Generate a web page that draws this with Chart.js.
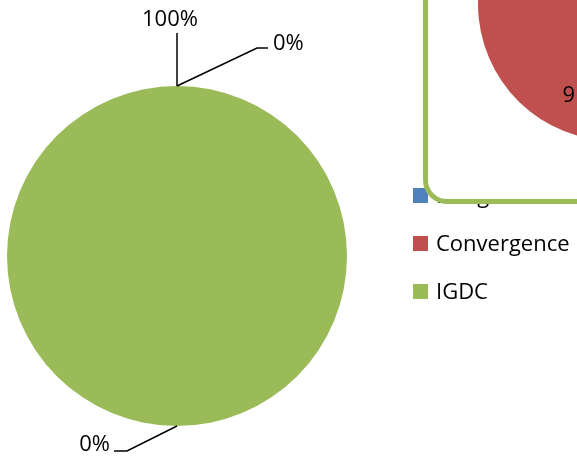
<!DOCTYPE html>
<html>
<head>
<meta charset="utf-8">
<script src="https://cdn.jsdelivr.net/npm/chart.js@4/dist/chart.umd.min.js"></script>
<style>
html, body { margin: 0; padding: 0; background: #fff; overflow: hidden; }
#wrap { position: relative; width: 577px; height: 459px; overflow: hidden; }
#main { position: absolute; left: 0; top: 0; }
#inset { position: absolute; left: 423px; top: -60px; width: 320px; height: 264px; box-sizing: border-box;
         border: 5px solid #9BBB59; border-radius: 24px; background: #fff; overflow: hidden; }
#second { position: absolute; left: 37px; top: -91px; }
</style>
</head>
<body>
<div id="wrap">
  <canvas id="main" width="577" height="459"></canvas>
  <div id="inset"><canvas id="second" width="300" height="300"></canvas></div>
</div>
<script>
// data
const categories = ['Budget', 'Convergence', 'IGDC'];
const shareValues = [0, 0, 100];
const sliceColors = ['#4F81BD', '#C0504D', '#9BBB59'];

const insetCategories = ['Other', 'Convergence'];
const insetValues = [9, 91];
const insetColors = ['#4F81BD', '#C0504D'];

const FONT = '22px "Open Sans", sans-serif';

// leader lines + labels (offsets from the anchor on the rim)
const labelLayout = [
    { angle: -90, path: [[80, -38], [91, -38]], text: [96, -36], align: 'left' },
    { angle: 90, path: [[-50, 25], [-63, 25]], text: [-67, 25], align: 'right' },
    { angle: -90, path: [[0, -53]], text: [-7, -60], align: 'center' }
];

function pct(data, i) {
    let total = data.reduce((a, b) => a + b, 0);
    return Math.round(data[i] / total * 100) + '%';
}

const pieLabels = {
    id: 'pieLabels',
    afterDatasetsDraw(chart) {
        let ctx = chart.ctx;
        let meta = chart.getDatasetMeta(0);
        let data = chart.data.datasets[0].data;
        meta.data.forEach((arc, i) => {
            let lay = labelLayout[i];
            let p = arc.getProps(['x', 'y', 'outerRadius'], true);
            let a = lay.angle * Math.PI / 180;
            let ax = p.x + p.outerRadius * Math.cos(a);
            let ay = p.y + p.outerRadius * Math.sin(a);
            ctx.save();
            ctx.strokeStyle = '#000';
            ctx.lineWidth = 1.5;
            ctx.beginPath();
            ctx.moveTo(ax, ay);
            lay.path.forEach(q => ctx.lineTo(ax + q[0], ay + q[1]));
            ctx.stroke();
            ctx.font = FONT;
            ctx.fillStyle = '#000';
            ctx.textAlign = lay.align;
            ctx.textBaseline = 'alphabetic';
            ctx.fillText(pct(data, i), ax + lay.text[0], ay + lay.text[1]);
            ctx.restore();
        });
    }
};

const sideLegend = {
    id: 'sideLegend',
    afterDraw(chart) {
        let ctx = chart.ctx;
        let ds = chart.data.datasets[0];
        chart.data.labels.forEach((lab, i) => {
            let top = 188 + i * 48;
            ctx.save();
            ctx.fillStyle = ds.backgroundColor[i];
            ctx.fillRect(413, top, 15, 15);
            ctx.font = FONT;
            ctx.fillStyle = '#000';
            ctx.textAlign = 'left';
            ctx.textBaseline = 'alphabetic';
            ctx.fillText(lab, 436, top + 15);
            ctx.restore();
        });
    }
};

const insetLabels = {
    id: 'insetLabels',
    afterDatasetsDraw(chart) {
        let ctx = chart.ctx;
        let data = chart.data.datasets[0].data;
        chart.getDatasetMeta(0).data.forEach((arc, i) => {
            let p = arc.getProps(['x', 'y', 'startAngle', 'endAngle', 'outerRadius'], true);
            let mid = (p.startAngle + p.endAngle) / 2;
            let r = p.outerRadius * 0.7;
            ctx.save();
            ctx.font = FONT;
            ctx.fillStyle = '#000';
            ctx.textAlign = 'center';
            ctx.textBaseline = 'middle';
            ctx.fillText(pct(data, i), p.x + r * Math.cos(mid) - 4, p.y + r * Math.sin(mid));
            ctx.restore();
        });
    }
};

new Chart(document.getElementById('main'), {
    type: 'pie',
    data: {
        labels: categories,
        datasets: [{
            data: shareValues,
            backgroundColor: sliceColors,
            borderWidth: 0,
            hoverOffset: 0,
            radius: 170
        }]
    },
    options: {
        responsive: false,
        animation: false,
        layout: { padding: { left: 0, right: 223, top: 53, bottom: 0 } },
        plugins: { legend: { display: false }, tooltip: { enabled: false } }
    },
    plugins: [pieLabels, sideLegend]
});

new Chart(document.getElementById('second'), {
    type: 'pie',
    data: {
        labels: insetCategories,
        datasets: [{
            data: insetValues,
            backgroundColor: insetColors,
            borderWidth: 0,
            hoverOffset: 0,
            radius: 137
        }]
    },
    options: {
        responsive: false,
        animation: false,
        plugins: { legend: { display: false }, tooltip: { enabled: false } }
    },
    plugins: [insetLabels]
});
</script>
</body>
</html>
